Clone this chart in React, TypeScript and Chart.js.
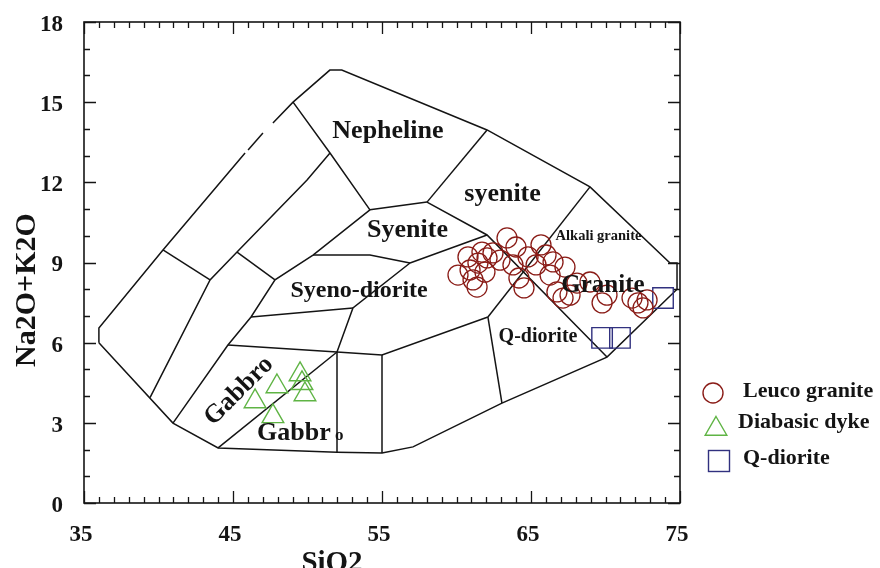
import React, { useEffect, useRef } from 'react';
import { Chart, registerables } from 'chart.js';

Chart.register(...registerables);

// ---------- axis ticks ----------
const xTickLabels = [35, 45, 55, 65, 75];
const yTickLabels = [0, 3, 6, 9, 12, 15, 18];

// ---------- sample data (SiO2, Na2O+K2O) ----------
const leucoSiO2 = [60.1, 60.77, 60.91, 61.11, 61.38, 61.44, 61.71, 61.91, 62.05, 62.45, 62.92, 63.39, 63.79, 63.99, 64.19, 64.53, 64.8, 65.34, 65.67, 66.01, 66.28, 66.48, 66.74, 67.15, 67.28, 67.62, 68.09, 68.96, 69.77, 70.1, 71.78, 72.18, 72.52, 72.79];
const leucoAlk = [8.53, 9.21, 8.72, 8.35, 8.08, 8.98, 9.39, 8.64, 9.17, 9.36, 9.09, 9.92, 8.91, 9.58, 8.42, 8.05, 9.21, 8.91, 9.66, 9.28, 8.53, 9.02, 7.9, 7.67, 8.83, 7.78, 8.23, 8.27, 7.49, 7.78, 7.67, 7.49, 7.3, 7.6];

const dykeSiO2 = [46.48, 47.95, 47.68, 49.5, 49.63, 49.83];
const dykeAlk = [3.8, 4.36, 3.24, 4.81, 4.48, 4.06];

const qdSiO2 = [69.77, 70.97, 73.86];
const qdAlk = [6.18, 6.18, 7.67];

// ---------- classification field boundaries [SiO2, alkali] ----------
const outerLeft1 = [[36.0, 6.0], [36.0, 6.55], [40.3, 9.47], [45.81, 13.1]];
const outerLeft2 = [[46.01, 13.21], [47.01, 13.85]];
const outerMain = [[47.68, 14.22], [49.03, 15.0], [51.5, 16.2], [52.3, 16.2], [62.05, 13.96], [68.96, 11.83], [74.33, 8.98], [74.8, 8.98], [74.8, 8.0], [70.1, 5.46], [63.05, 3.74], [57.08, 2.1], [55.0, 1.87], [51.98, 1.9], [44.0, 2.06], [40.97, 2.99], [36.0, 6.0]];
const nephelineLeft = [[49.03, 15.0], [51.51, 13.1], [54.19, 10.97]];
const diagonal2 = [[39.43, 3.94], [43.46, 8.35], [45.27, 9.39], [49.97, 12.09], [51.51, 13.1]];
const diagonal3 = [[40.97, 2.99], [44.66, 5.91], [46.21, 6.96], [47.82, 8.35], [50.37, 9.28], [54.19, 10.97]];
const crossbar1 = [[40.3, 9.47], [43.46, 8.35]];
const crossbar2 = [[45.27, 9.39], [47.82, 8.35]];
const syeniteTop = [[54.19, 10.97], [58.02, 11.26]];
const nephelineRight = [[58.02, 11.26], [62.05, 13.96]];
const graniteDiagonal = [[58.02, 11.26], [62.05, 10.03], [70.1, 5.46]];
const alkaliGraniteLeft = [[68.96, 11.83], [62.11, 6.96]];
const qDioriteLeft = [[62.11, 6.96], [63.05, 3.74]];
const dioriteBase = [[51.98, 5.65], [55.0, 5.54], [62.11, 6.96]];
const vertical52 = [[51.98, 5.65], [51.98, 1.9]];
const vertical55 = [[55.0, 5.54], [55.0, 1.87]];
const gabbroDiagonal = [[44.0, 2.06], [51.98, 5.65]];
const gabbroTop = [[44.66, 5.91], [51.98, 5.65]];
const midLine = [[46.21, 6.96], [53.05, 7.3]];
const syenoDioriteRight = [[56.88, 8.98], [53.05, 7.3], [51.98, 5.65]];
const syeniteBase = [[50.37, 9.28], [54.19, 9.28], [56.88, 8.98]];
const syenoDioriteTop = [[56.88, 8.98], [62.05, 10.03]];

const boundaries = [outerLeft1, outerLeft2, outerMain, nephelineLeft, diagonal2, diagonal3, crossbar1, crossbar2, syeniteTop, nephelineRight, graniteDiagonal, alkaliGraniteLeft, qDioriteLeft, dioriteBase, vertical52, vertical55, gabbroDiagonal, gabbroTop, midLine, syenoDioriteRight, syeniteBase, syenoDioriteTop];

// ---------- field names ----------
const fieldNames = ['Nepheline', 'syenite', 'Syenite', 'Syeno-diorite', 'Q-diorite', 'Granite', 'Alkali granite', 'Gabbro', 'Gabbr', 'o'];
const fieldSiO2 = [55.4, 63.09, 56.71, 53.46, 65.47, 69.83, 69.53, 45.4, 46.61, 51.85];
const fieldAlk = [13.66, 11.3, 9.96, 7.71, 6.03, 7.9, 9.84, 4.19, 2.36, 2.36];

const legendNames = ['Leuco granite', 'Diabasic dyke', 'Q-diorite'];

const FONT = "'Liberation Serif', 'Times New Roman', serif";
const INK = '#141414';
const RED = '#8a1c17';
const GREEN = '#5fb444';
const BLUE = '#31317f';

// label styles (size px, align, rotation deg, baseline)
const fieldStyles = [
  { size: 26, align: 'center', rot: 0, base: 'alphabetic' },
  { size: 26, align: 'center', rot: 0, base: 'alphabetic' },
  { size: 26, align: 'center', rot: 0, base: 'alphabetic' },
  { size: 24, align: 'center', rot: 0, base: 'alphabetic' },
  { size: 20, align: 'center', rot: 0, base: 'alphabetic' },
  { size: 25, align: 'center', rot: 0, base: 'alphabetic' },
  { size: 14.5, align: 'center', rot: 0, base: 'alphabetic' },
  { size: 26, align: 'center', rot: -45, base: 'middle' },
  { size: 26, align: 'left', rot: 0, base: 'alphabetic' },
  { size: 17, align: 'left', rot: 0, base: 'alphabetic' },
];

const framePlugin = {
  id: 'frameTicks',
  afterDatasetsDraw(chart: any) {
    const { ctx, chartArea: a, scales } = chart;
    const x = scales.x;
    const y = scales.y;
    ctx.save();
    ctx.strokeStyle = INK;
    ctx.lineWidth = 1.6;
    ctx.strokeRect(a.left, a.top, a.right - a.left, a.bottom - a.top);
    ctx.lineWidth = 1.3;
    ctx.beginPath();
    for (let v = x.min; v <= x.max + 1e-6; v += 1) {
      const px = Math.round(x.getPixelForValue(v)) + 0.5;
      const major = xTickLabels.includes(Math.round(v));
      const len = major ? 12 : 6;
      ctx.moveTo(px, a.bottom);
      ctx.lineTo(px, a.bottom - len);
      ctx.moveTo(px, a.top);
      ctx.lineTo(px, a.top + len);
    }
    for (let v = y.min; v <= y.max + 1e-6; v += 1) {
      const py = Math.round(y.getPixelForValue(v)) + 0.5;
      const major = yTickLabels.includes(Math.round(v));
      const len = major ? 12 : 6;
      ctx.moveTo(a.left, py);
      ctx.lineTo(a.left + len, py);
      ctx.moveTo(a.right, py);
      ctx.lineTo(a.right - len, py);
    }
    ctx.stroke();

    // field names
    ctx.fillStyle = INK;
    fieldNames.forEach((name, i) => {
      const st = fieldStyles[i];
      const px = x.getPixelForValue(fieldSiO2[i]);
      const py = y.getPixelForValue(fieldAlk[i]);
      ctx.save();
      ctx.translate(px, py);
      ctx.rotate((st.rot * Math.PI) / 180);
      ctx.font = `bold ${st.size}px ${FONT}`;
      ctx.textAlign = st.align;
      ctx.textBaseline = st.base;
      ctx.fillText(name, 0, 0);
      ctx.restore();
    });
    ctx.restore();
  },
  afterDraw(chart: any) {
    const { ctx } = chart;
    ctx.save();
    ctx.fillStyle = INK;
    // axis titles
    ctx.font = `bold 29px ${FONT}`;
    ctx.textAlign = 'center';
    ctx.textBaseline = 'alphabetic';
    ctx.fillText('SiO2', 332, 571);
    ctx.font = `bold 30px ${FONT}`;
    ctx.save();
    ctx.translate(35, 290);
    ctx.rotate(-Math.PI / 2);
    ctx.fillText('Na2O+K2O', 0, 0);
    ctx.restore();

    // legend
    const rows = [
      { mx: 713, my: 393, ty: 397, tx: 743 },
      { mx: 716, my: 429, ty: 428, tx: 738 },
      { mx: 719, my: 461, ty: 464, tx: 743 },
    ];
    ctx.lineWidth = 1.4;
    // circle
    ctx.strokeStyle = RED;
    ctx.beginPath();
    ctx.arc(rows[0].mx, rows[0].my, 10, 0, Math.PI * 2);
    ctx.stroke();
    // triangle
    ctx.strokeStyle = GREEN;
    ctx.beginPath();
    const r = 12.5;
    for (let k = 0; k < 3; k++) {
      const ang = (k * 2 * Math.PI) / 3;
      const px = rows[1].mx + Math.sin(ang) * r;
      const py = rows[1].my - Math.cos(ang) * r;
      if (k === 0) ctx.moveTo(px, py);
      else ctx.lineTo(px, py);
    }
    ctx.closePath();
    ctx.stroke();
    // square
    ctx.strokeStyle = BLUE;
    ctx.strokeRect(rows[2].mx - 10.5, rows[2].my - 10.5, 21, 21);

    ctx.fillStyle = INK;
    ctx.font = `bold 22px ${FONT}`;
    ctx.textAlign = 'left';
    ctx.textBaseline = 'alphabetic';
    legendNames.forEach((n, i) => ctx.fillText(n, rows[i].tx, rows[i].ty));
    ctx.restore();
  },
};

function toPts(xs: number[], ys: number[]) {
  return xs.map((v, i) => ({ x: v, y: ys[i] }));
}

export default function App() {
  const ref = useRef<HTMLCanvasElement | null>(null);

  useEffect(() => {
    if (!ref.current) return;
    const lineSets = boundaries.map((seg) => ({
      label: '',
      data: seg.map(([sx, sy]) => ({ x: sx, y: sy })),
      showLine: true,
      borderColor: INK,
      borderWidth: 1.5,
      pointRadius: 0,
      pointHoverRadius: 0,
      fill: false,
      tension: 0,
      order: 2,
    }));
    const chart = new Chart(ref.current, {
      type: 'scatter',
      data: {
        datasets: [
          ...lineSets,
          {
            label: legendNames[0],
            data: toPts(leucoSiO2, leucoAlk),
            pointStyle: 'circle',
            pointRadius: 10,
            pointBorderColor: RED,
            pointBackgroundColor: 'rgba(0,0,0,0)',
            pointBorderWidth: 1.3,
            order: 1,
          },
          {
            label: legendNames[1],
            data: toPts(dykeSiO2, dykeAlk),
            pointStyle: 'triangle',
            pointRadius: 12.5,
            pointBorderColor: GREEN,
            pointBackgroundColor: 'rgba(0,0,0,0)',
            pointBorderWidth: 1.4,
            order: 1,
          },
          {
            label: legendNames[2],
            data: toPts(qdSiO2, qdAlk),
            pointStyle: 'rect',
            pointRadius: 14.5,
            pointBorderColor: BLUE,
            pointBackgroundColor: 'rgba(0,0,0,0)',
            pointBorderWidth: 1.4,
            order: 1,
          },
        ] as any,
      },
      options: {
        animation: false,
        responsive: false,
        events: [],
        layout: { padding: { top: 22, right: 200, left: 0, bottom: 0 } },
        plugins: { legend: { display: false }, tooltip: { enabled: false } },
        scales: {
          x: {
            type: 'linear',
            position: 'bottom',
            min: 35,
            max: 75,
            grid: { display: false, drawTicks: false },
            border: { display: false },
            afterBuildTicks: (s: any) => {
              s.ticks = xTickLabels.map((v) => ({ value: v }));
            },
            afterFit: (s: any) => {
              s.height = 65;
              s.paddingLeft = 0;
              s.paddingRight = 0;
            },
            ticks: {
              padding: 18,
              labelOffset: -3,
              color: INK,
              font: { family: FONT, size: 23, weight: 'bold' },
              maxRotation: 0,
              autoSkip: false,
            },
          },
          y: {
            type: 'linear',
            position: 'left',
            min: 0,
            max: 18,
            grid: { display: false, drawTicks: false },
            border: { display: false },
            afterBuildTicks: (s: any) => {
              s.ticks = yTickLabels.map((v) => ({ value: v }));
            },
            afterFit: (s: any) => {
              s.width = 84;
              s.paddingTop = 0;
              s.paddingBottom = 0;
            },
            ticks: {
              padding: 21,
              labelOffset: 3,
              color: INK,
              font: { family: FONT, size: 23, weight: 'bold' },
              autoSkip: false,
            },
          },
        },
      } as any,
      plugins: [framePlugin],
    });
    return () => chart.destroy();
  }, []);

  return (
    <div style={{ position: 'fixed', left: 0, top: 0, width: 880, height: 568, background: '#fff' }}>
      <canvas ref={ref} width={880} height={568} style={{ display: 'block', width: 880, height: 568 }} />
    </div>
  );
}
